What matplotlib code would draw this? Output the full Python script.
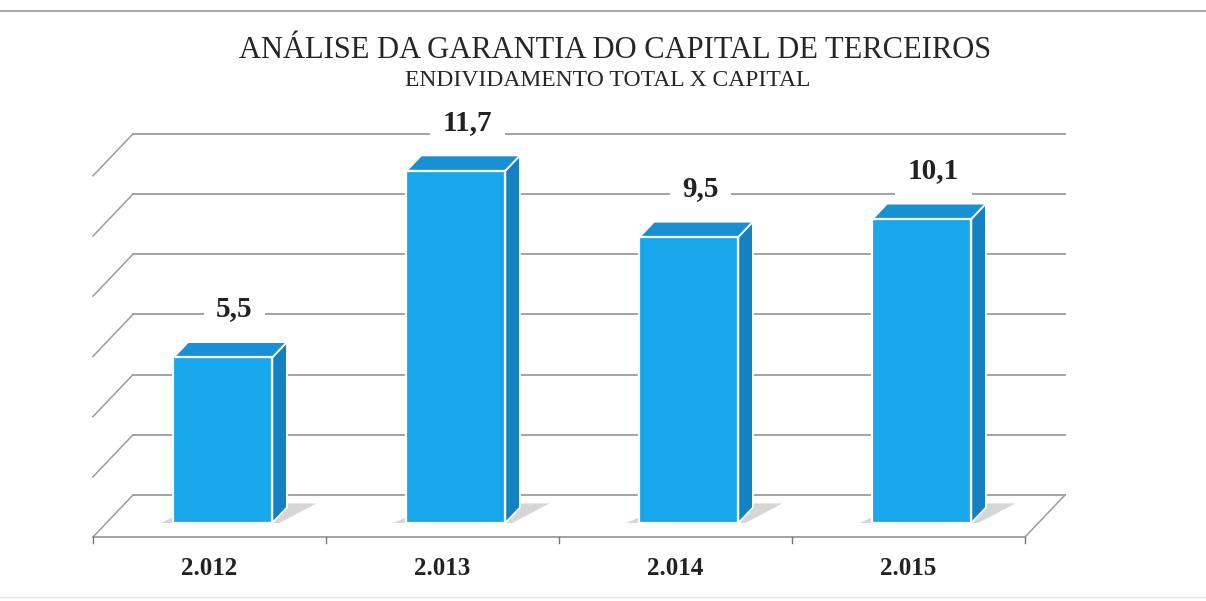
import matplotlib.pyplot as plt
from matplotlib.patches import Polygon
from matplotlib.lines import Line2D

anos = ['2.012', '2.013', '2.014', '2.015']
valores = [5.5, 11.7, 9.5, 10.1]
rotulos = ['5,5', '11,7', '9,5', '10,1']
grade = [0, 2, 4, 6, 8, 10, 12]

titulo = 'ANÁLISE DA GARANTIA DO CAPITAL DE TERCEIROS'
subtitulo = 'ENDIVIDAMENTO TOTAL X CAPITAL'

plt.rcParams['font.family'] = ['Liberation Serif', 'DejaVu Serif']

# escala do grafico (pixels por categoria / por unidade)
px_cat = 233.0
px_val = 30.1
DX = 40 / px_cat   # deslocamento da profundidade (3D falso)
DY = 42 / px_val


def proj(x, v, d):
    return (x + d * DX, v + d * DY)


fig = plt.figure(figsize=(12.06, 6.01), dpi=100)
ax = fig.add_axes([0, 0, 1, 1])
ax.set_xlim(-93 / px_cat, (1206 - 93) / px_cat)
ax.set_ylim((537 - 601) / px_val, 537 / px_val)
ax.axis('off')

cor_grade = '#9c9c9c'
n = len(anos)

# grade: parede de fundo + parede lateral
for v in grade:
    a, b = proj(0, v, 1), proj(n, v, 1)
    ax.plot([a[0], b[0]], [a[1], b[1]], color=cor_grade, lw=1.3, zorder=1)
    c = proj(0, v, 0)
    ax.plot([c[0], a[0]], [c[1], a[1]], color=cor_grade, lw=1.1, zorder=1)

# piso
f0, f1 = proj(0, 0, 0), proj(n, 0, 0)
ax.plot([f0[0], f1[0]], [f0[1], f1[1]], color=cor_grade, lw=1.3, zorder=1)
b1 = proj(n, 0, 1)
ax.plot([f1[0], b1[0]], [f1[1], b1[1]], color=cor_grade, lw=1.1, zorder=1)
for i in range(n + 1):
    ax.plot([i, i], [0, -0.2], color='#777777', lw=1.0, zorder=1)

# barras
d0, d1 = 1 / 3, 0.70
w0, w1 = 0.288, 0.712
frente = '#18a7ea'
topo = '#1791d3'
lado = '#1482c2'

for i, v in enumerate(valores):
    x0, x1 = i + w0, i + w1
    sombra = [proj(x0 - 0.055, 0, d0), proj(x1 + 0.03, 0, d0),
              proj(x1 + 0.11, 0, d1 + 0.1), proj(x0 + 0.05, 0, d1 + 0.1)]
    ax.add_patch(Polygon(sombra, closed=True, fc='#d6d6d6', ec='none', zorder=2))

    face = [proj(x0, 0, d0), proj(x1, 0, d0), proj(x1, v, d0), proj(x0, v, d0)]
    cima = [proj(x0, v, d0), proj(x1, v, d0), proj(x1, v, d1), proj(x0, v, d1)]
    lat = [proj(x1, 0, d0), proj(x1, 0, d1), proj(x1, v, d1), proj(x1, v, d0)]
    ax.add_patch(Polygon(lat, closed=True, fc=lado, ec='white', lw=1.3, zorder=3))
    ax.add_patch(Polygon(cima, closed=True, fc=topo, ec='white', lw=1.3, zorder=3))
    ax.add_patch(Polygon(face, closed=True, fc=frente, ec='white', lw=1.6, zorder=4))

    lx, ly = proj(i + 0.5 + 25 / px_cat, v, d1)
    ax.text(lx - d1 * DX, ly + 1.1, rotulos[i], ha='center', va='center',
            fontsize=21, fontweight='bold', color='#222222', zorder=6,
            bbox=dict(fc='white', ec='none', pad=9))

    ax.text(i + 0.5, -1.03, anos[i], ha='center', va='center',
            fontsize=18, fontweight='bold', color='#222222')

fig.text(615 / 1206, 1 - 51 / 601, titulo, ha='center', va='center',
         fontsize=22, color='#262626')
fig.text(608 / 1206, 1 - 81 / 601, subtitulo, ha='center', va='center',
         fontsize=17, color='#262626')

# linha superior da pagina digitalizada
fig.add_artist(Line2D([0, 1], [1 - 11 / 601, 1 - 11 / 601],
                      transform=fig.transFigure, color='#9a9a9a', lw=1.2))
fig.add_artist(Line2D([0, 1], [1 - 597 / 601, 1 - 597 / 601],
                      transform=fig.transFigure, color='#e4e4e4', lw=1.0))

fig.savefig('out.png', dpi=100)
